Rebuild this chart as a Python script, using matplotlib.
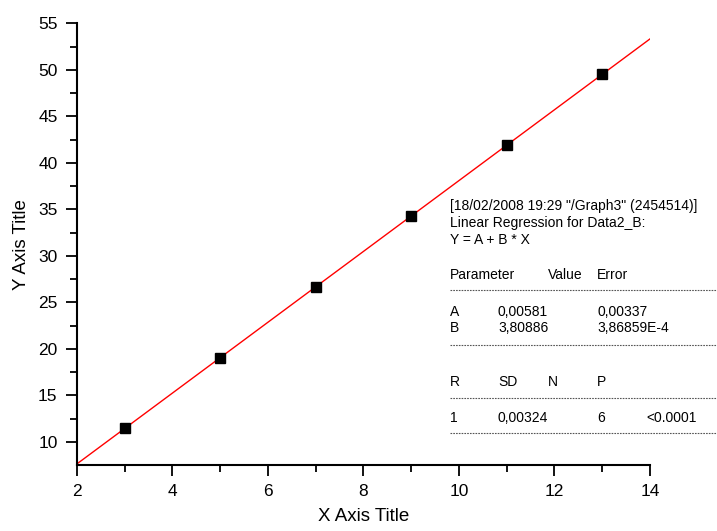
import numpy as np
import matplotlib.pyplot as plt
from matplotlib.lines import Line2D

plt.rcParams["font.family"] = ["Liberation Sans", "DejaVu Sans"]

# data points
x_data = [3, 5, 7, 9, 11, 13]
y_data = [11.43, 19.05, 26.67, 34.29, 41.90, 49.52]

# fit parameters
fit_a = 0.00581
fit_b = 3.80886
fit_x = np.array([2, 14])

xticks = [2, 4, 6, 8, 10, 12, 14]
yticks = [10, 15, 20, 25, 30, 35, 40, 45, 50, 55]

header_lines = ['[18/02/2008 19:29 "/Graph3" (2454514)]',
                "Linear Regression for Data2_B:",
                "Y = A + B * X"]
param_head = ["Parameter", "Value", "Error"]
param_rows = [["A", "0,00581", "0,00337"],
              ["B", "3,80886", "3,86859E-4"]]
stat_head = ["R", "SD", "N", "P"]
stat_row = ["1", "0,00324", "6", "<0.0001"]

fig = plt.figure(figsize=(7.17, 5.31), dpi=100)
ax = fig.add_axes([0.1074, 0.1243, 0.799, 0.8315])

ax.plot(fit_x, fit_a + fit_b * fit_x, color="red", lw=1.0, zorder=2)
ax.plot(x_data, y_data, ls="none", marker="s", ms=6.5, color="black", zorder=3)

ax.set_xlim(2, 14)
ax.set_ylim(7.5, 55)
ax.set_xticks(xticks)
ax.set_yticks(yticks)
ax.set_xticks(np.arange(3, 14, 2), minor=True)
ax.set_yticks(np.arange(12.5, 55, 5), minor=True)
ax.tick_params(which="major", direction="out", length=8, width=1.3, labelsize=12.5, pad=6)
ax.tick_params(which="minor", direction="out", length=5, width=1.3)
ax.spines["top"].set_visible(False)
ax.spines["right"].set_visible(False)
for s in ["left", "bottom"]:
    ax.spines[s].set_linewidth(1.5)

ax.set_xlabel("X Axis Title", fontsize=13.5, labelpad=6)
ax.set_ylabel("Y Axis Title", fontsize=13.5, labelpad=6)

# regression report text (figure pixel coords, baseline)
W, H = 717, 531
fs = 10


def put(px, py, s):
    fig.text(px / W, 1 - py / H, s, fontsize=fs, va="baseline", ha="left")


def dash(py):
    fig.add_artist(Line2D([450 / W, 1.0], [1 - py / H, 1 - py / H],
                          color="#555555", lw=0.8, ls=(0, (1.5, 1))))


for i, s in enumerate(header_lines):
    put(450, 210 + i * 17, s)

put(450, 279, param_head[0])
put(548, 279, param_head[1])
put(597, 279, param_head[2])
dash(290)
for i, row in enumerate(param_rows):
    put(450, 316 + i * 16, row[0])
    put(498, 316 + i * 16, row[1])
    put(597, 316 + i * 16, row[2])
dash(345)
for cx, s in zip([450, 498, 548, 597], stat_head):
    put(cx, 386, s)
dash(398)
for cx, s in zip([450, 498, 597, 646], stat_row):
    put(cx, 422, s)
dash(433)

fig.savefig("out.png", dpi=100)
